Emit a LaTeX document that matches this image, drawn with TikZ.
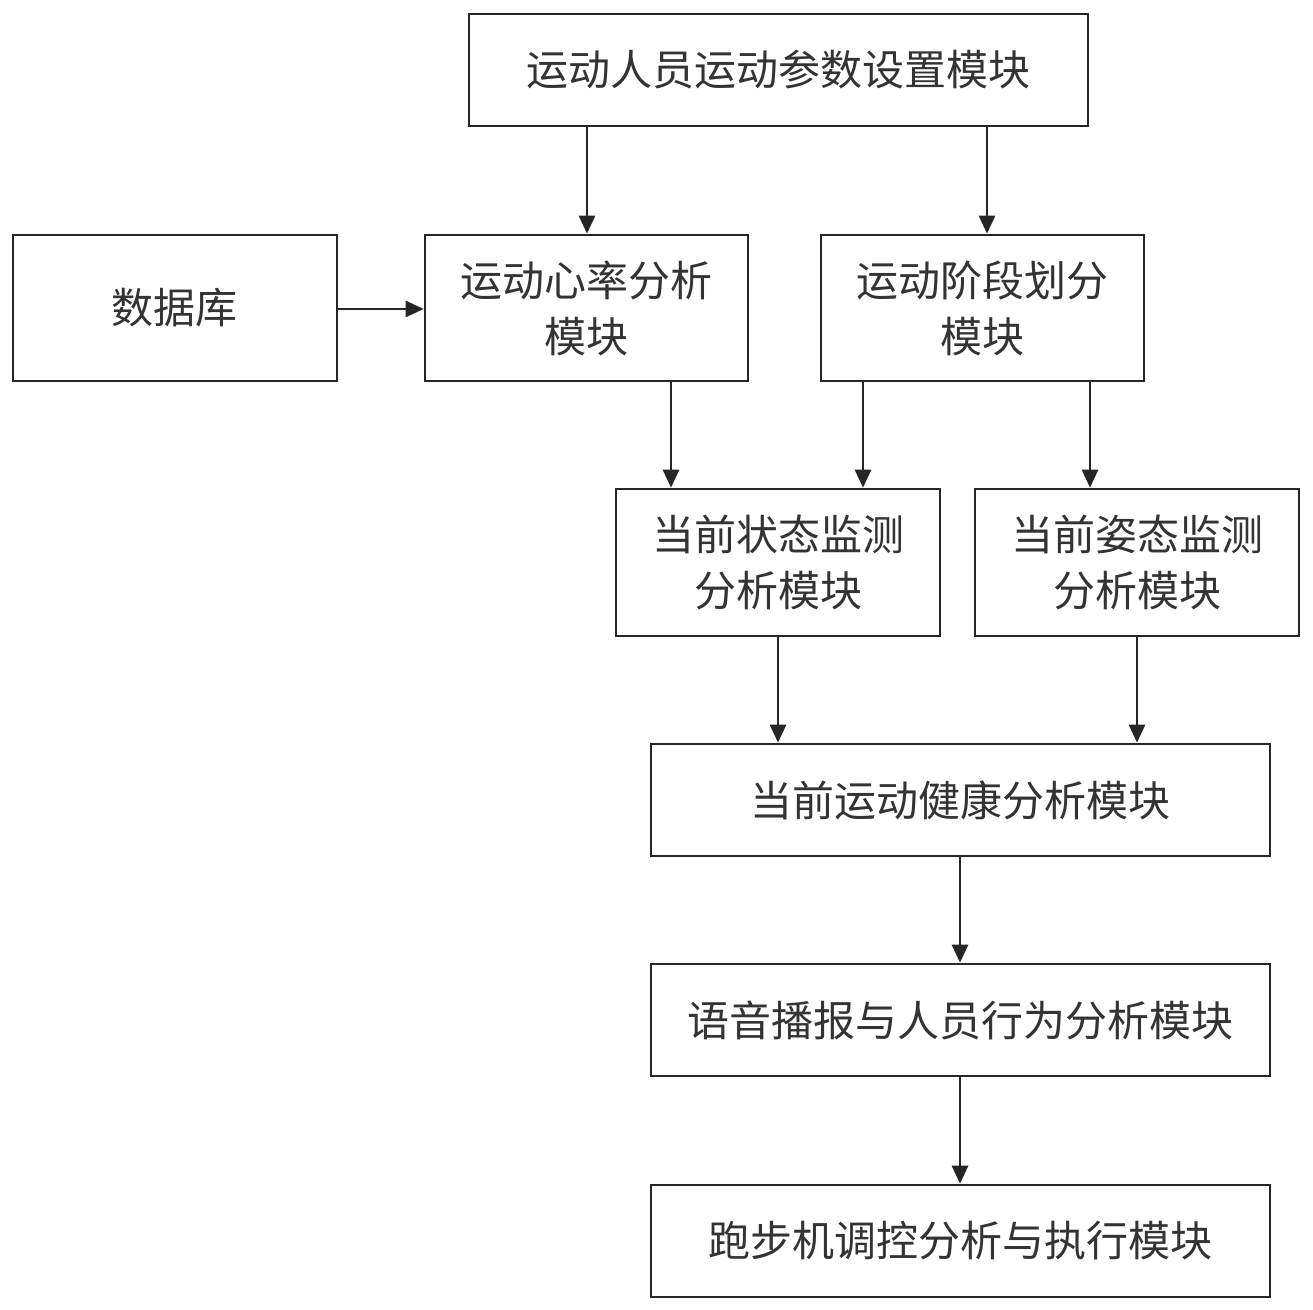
\documentclass[tikz,border=0pt]{standalone}
\usepackage{fontspec}
\newfontfamily\cjk{Noto Sans CJK SC}
\usetikzlibrary{arrows.meta}
\begin{document}
\begin{tikzpicture}[x=0.5pt,y=-0.5pt,
  box/.style={draw=black!85,line width=1.3pt,fill=white,inner sep=0pt,align=center,font=\cjk\fontsize{21}{28}\selectfont,text=black!80},
  arr/.style={draw=black!85,line width=1.3pt,-{Triangle[length=9pt,width=8pt]}}]
\fill[white] (0,0) rectangle (1313,1310);
\useasboundingbox (0,0) rectangle (1313,1310);
\newcommand{\bx}[6]{\node[box,minimum width=#4*0.5pt-#2*0.5pt,minimum height=#5*0.5pt-#3*0.5pt] (#1) at ({(#2+#4)/2},{(#3+#5)/2}) {#6};}
\bx{top}{469}{14}{1088}{126}{运动人员运动参数设置模块}
\bx{db}{13}{235}{337}{381}{数据库}
\bx{hr}{425}{235}{748}{381}{运动心率分析\\模块}
\bx{stage}{821}{235}{1144}{381}{运动阶段划分\\模块}
\bx{state}{616}{489}{940}{636}{当前状态监测\\分析模块}
\bx{pose}{975}{489}{1299}{636}{当前姿态监测\\分析模块}
\bx{health}{651}{744}{1270}{856}{当前运动健康分析模块}
\bx{voice}{651}{964}{1270}{1076}{语音播报与人员行为分析模块}
\bx{tread}{651}{1185}{1270}{1297}{跑步机调控分析与执行模块}
\draw[arr] (top.south -| 587,0) -- (hr.north -| 587,0);
\draw[arr] (top.south -| 987,0) -- (stage.north -| 987,0);
\draw[arr] (db.east |- 0,309) -- (hr.west |- 0,309);
\draw[arr] (hr.south -| 671,0) -- (state.north -| 671,0);
\draw[arr] (stage.south -| 863,0) -- (state.north -| 863,0);
\draw[arr] (stage.south -| 1090,0) -- (pose.north -| 1090,0);
\draw[arr] (state.south -| 778,0) -- (health.north -| 778,0);
\draw[arr] (pose.south -| 1137,0) -- (health.north -| 1137,0);
\draw[arr] (health.south -| 960,0) -- (voice.north -| 960,0);
\draw[arr] (voice.south -| 960,0) -- (tread.north -| 960,0);
\end{tikzpicture}
\end{document}
